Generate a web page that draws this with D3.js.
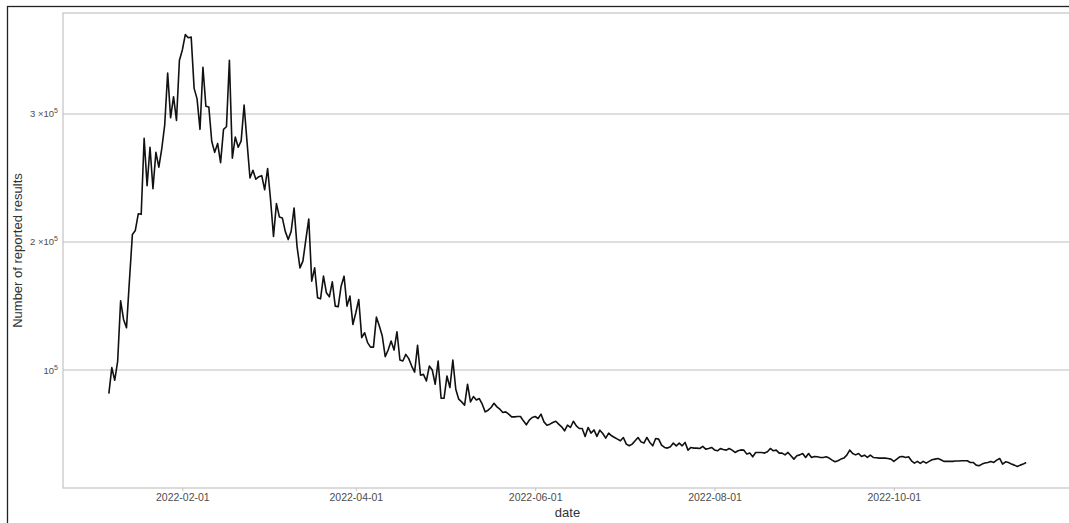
<!DOCTYPE html>
<html>
<head>
<meta charset="utf-8">
<script src="https://cdn.jsdelivr.net/npm/d3@7"></script>
<style>
  body { margin: 0; background: #fff; }
  svg { display: block; }
</style>
</head>
<body>
<svg id="chart"></svg>
<script>
// daily counts, first day 2022-01-07, values in thousands
const startDate = "2022-01-07";
const countsK = [
  81.6, 101.9, 92, 107, 154, 139.5, 133, 170, 205.8, 209,
  222, 221.6, 281, 244, 274, 241.6, 270, 258.5, 273, 291.5,
  332, 297, 313.5, 295, 342, 350, 362, 359.5, 360, 320,
  311.8, 288, 336.5, 306, 305.5, 278.5, 270, 277, 262, 288,
  290, 342, 265.5, 282, 274, 279, 307, 278, 250, 256,
  249, 251, 251.8, 240.8, 257.4, 233, 204.4, 230, 219.6, 218.8,
  208.3, 201.9, 208.3, 226.6, 196.6, 179.8, 185, 201.9, 218, 169.4,
  179.8, 156.4, 155.6, 173.3, 160.3, 157.2, 168.9, 149.9, 149.4, 165.5,
  173.3, 149.9, 157.7, 135.6, 144.7, 155.1, 125.3, 129.1, 121.4, 117.9,
  117.9, 141.3, 134.3, 126.5, 110.4, 115.6, 122.6, 115.6, 129.9, 107.8,
  107, 112.2, 108.9, 103.1, 98.4, 119.3, 95.9, 96.6, 91.4, 103.1,
  100, 88.9, 107, 77.9, 77.9, 95.3, 86.3, 107.8, 85, 77.2,
  75.1, 72.5, 88.9, 75.1, 79.3, 76.6, 77.7, 73.3, 67.3, 68.6,
  70.7, 74, 71.2, 69.4, 66.8, 67.3, 65.5, 63.4, 63.4, 63.7,
  63.7, 60.3, 57.2, 60.8, 62.9, 63.7, 62.1, 65.5, 59.5, 56.9,
  57.7, 59, 60, 57.7, 55.6, 52.5, 56.9, 55.1, 60, 56.4,
  54.3, 54.3, 48.1, 55.1, 50.7, 53.2, 48.1, 53, 50.4, 46.8,
  50.7, 48.6, 47.3, 46, 44.7, 47.3, 42.1, 40.8, 42.1, 44.7,
  47.3, 43.9, 42.9, 47.3, 43.4, 40.8, 46.5, 46, 41.3, 39.5,
  39, 40, 42.9, 40.8, 42.9, 40.8, 43.4, 37.4, 39.5, 39,
  39, 38.7, 40.3, 38.2, 38.7, 39.5, 37.6, 36.9, 38.6, 37.9,
  37.4, 38.7, 37.4, 35.6, 36.9, 37.6, 37.4, 34.3, 35.1, 32.2,
  35.6, 35.6, 35.6, 35.1, 36.1, 38.7, 36.9, 37.4, 35.1, 35.1,
  33.7, 35.6, 33, 30.4, 33, 33.7, 34.8, 31.7, 34.8, 31.7,
  32.5, 32.2, 31.7, 31.7, 32.2, 31.2, 29.6, 28.3, 29.1, 30.4,
  31.2, 33.5, 37.4, 34.8, 33.7, 34.8, 32.5, 33.5, 31.7, 33.5,
  31.7, 31.5, 31.2, 31.2, 31.2, 30.9, 30.4, 28.6, 30.4, 32.2,
  32.5, 31.7, 32.2, 29.1, 27.3, 28.6, 27, 28.6, 27.3, 28.6,
  29.9, 30.4, 30.9, 29.9, 28.6, 28.6, 28.6, 28.6, 28.9, 28.9,
  29.1, 29.1, 29.1, 27.8, 27.8, 25.7, 25.2, 26.5, 27.3, 27.8,
  28.6, 27.8, 29.6, 30.9, 26.5, 28.3, 27.8, 26.5, 25.7, 24.7,
  25.7, 26.5, 27.8
];
const xTicks = ["2022-02-01", "2022-04-01", "2022-06-01", "2022-08-01", "2022-10-01"];
const yTicks = [100000, 200000, 300000];
const yTickLabels = [["", "10", "5"], ["2 \u00d7", "10", "5"], ["3 \u00d7", "10", "5"]];

const width = 1069;
const height = 523;
const margin = { left: 63, right: -3, top: 13, bottom: 35 };

const parse = d3.utcParse("%Y-%m-%d");
const t0 = parse(startDate);
const data = countsK.map((v, i) => ({ date: d3.utcDay.offset(t0, i), value: v * 1000 }));

// ggplot style 5% expansion
function expand(ext) {
  const pad = (ext[1] - ext[0]) * 0.05;
  return [ext[0] - pad, ext[1] + pad];
}
const xExt = d3.extent(data, (d) => +d.date);
const x = d3
  .scaleUtc()
  .domain(expand(xExt).map((t) => new Date(t)))
  .range([margin.left, width - margin.right]);
const y = d3
  .scaleLinear()
  .domain(expand(d3.extent(data, (d) => d.value)))
  .range([height - margin.bottom, margin.top]);

const svg = d3.select("#chart").attr("width", width).attr("height", height);

// outer frame
svg
  .append("rect")
  .attr("x", 7.5)
  .attr("y", 6.5)
  .attr("width", width + 10)
  .attr("height", height + 10)
  .attr("fill", "none")
  .attr("stroke", "#222")
  .attr("stroke-width", 1.3);

// gridlines
svg
  .append("g")
  .selectAll("line")
  .data(yTicks)
  .enter()
  .append("line")
  .attr("x1", margin.left)
  .attr("x2", width - margin.right)
  .attr("y1", (d) => y(d))
  .attr("y2", (d) => y(d))
  .attr("stroke", "#bdbdbd")
  .attr("stroke-width", 1.1);

// panel border
svg
  .append("rect")
  .attr("x", margin.left)
  .attr("y", margin.top)
  .attr("width", width - margin.right - margin.left)
  .attr("height", height - margin.bottom - margin.top)
  .attr("fill", "none")
  .attr("stroke", "#c4c4c4")
  .attr("stroke-width", 1.2);

// x axis
const xAxis = svg
  .append("g")
  .attr("transform", `translate(0,${height - margin.bottom})`)
  .call(
    d3
      .axisBottom(x)
      .tickValues(xTicks.map(parse))
      .tickFormat(d3.utcFormat("%Y-%m-%d"))
      .tickSize(3)
      .tickPadding(3)
  );
xAxis.select(".domain").remove();
xAxis.selectAll(".tick line").attr("stroke", "#c4c4c4");
xAxis
  .selectAll(".tick text")
  .attr("fill", "#4d4d4d")
  .style("font-family", "Liberation Sans, Arial, sans-serif")
  .style("font-size", "10.5px");

// y axis labels with superscripts
const yAxis = svg.append("g");
yTicks.forEach((v, i) => {
  const lab = yTickLabels[i];
  const t = yAxis
    .append("text")
    .attr("x", margin.left - 5)
    .attr("y", y(v) + 3.5)
    .attr("text-anchor", "end")
    .attr("fill", "#4d4d4d")
    .style("font-family", "Liberation Sans, Arial, sans-serif")
    .style("font-size", "9.5px");
  if (lab[0]) t.append("tspan").text(lab[0]);
  t.append("tspan").text(lab[1]);
  t.append("tspan").attr("dy", -4).style("font-size", "7px").text(lab[2]);
});

// axis titles
svg
  .append("text")
  .attr("x", (margin.left + width - margin.right) / 2)
  .attr("y", 517)
  .attr("text-anchor", "middle")
  .attr("fill", "#333")
  .style("font-family", "Liberation Sans, Arial, sans-serif")
  .style("font-size", "13px")
  .text("date");

svg
  .append("text")
  .attr("transform", `translate(22,${(margin.top + height - margin.bottom) / 2}) rotate(-90)`)
  .attr("text-anchor", "middle")
  .attr("fill", "#333")
  .style("font-family", "Liberation Sans, Arial, sans-serif")
  .style("font-size", "13px")
  .text("Number of reported results");

// the series
const line = d3
  .line()
  .x((d) => x(d.date))
  .y((d) => y(d.value));

svg
  .append("path")
  .datum(data)
  .attr("fill", "none")
  .attr("stroke", "#111")
  .attr("stroke-width", 1.6)
  .attr("stroke-linejoin", "round")
  .attr("d", line);
</script>
</body>
</html>
